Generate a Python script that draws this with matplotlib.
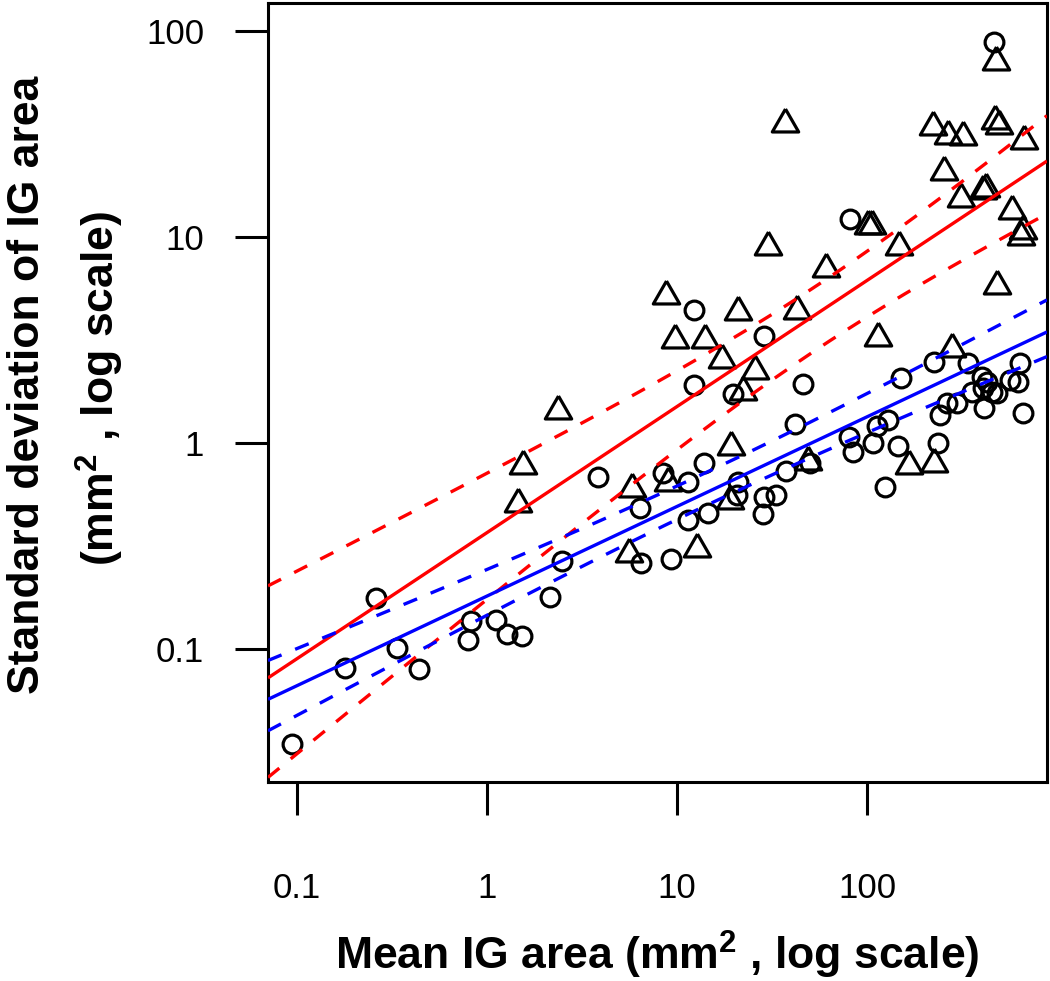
import numpy as np
import matplotlib
matplotlib.use("Agg")
import matplotlib.pyplot as plt
from matplotlib.ticker import FixedLocator, NullLocator

# ---- data ----
circle_x = [0.094, 0.179, 0.261, 0.336, 0.439, 0.794, 0.824, 1.115, 1.274, 1.527,
            2.146, 2.483, 3.84, 6.39, 6.47, 8.44, 9.29, 11.4, 11.4, 14.6,
            13.9, 12.3, 12.3, 19.7, 28.7, 20.9, 20.7, 28.7, 33.2, 28.4,
            37.5, 50.1, 41.8, 46.0, 80.4, 84.4, 107.6, 113, 129, 124.5,
            145.6, 151, 81.4, 236.5, 225, 340, 638, 403, 428, 408,
            455, 483, 357, 566, 624, 264, 298, 242, 413, 662, 466]
circle_y = [0.0346, 0.0809, 0.177, 0.101, 0.080, 0.111, 0.137, 0.138, 0.118, 0.116,
            0.179, 0.267, 0.684, 0.483, 0.261, 0.714, 0.273, 0.647, 0.423, 0.457,
            0.80, 1.91, 4.43, 1.73, 3.30, 0.647, 0.560, 0.547, 0.560, 0.452,
            0.731, 0.80, 1.24, 1.93, 1.07, 0.904, 1.0, 1.21, 1.29, 0.611,
            0.967, 2.07, 12.2, 1.0, 2.47, 2.44, 2.44, 2.09, 1.98, 1.85,
            1.77, 1.75, 1.77, 2.02, 1.98, 1.56, 1.56, 1.37, 1.48, 1.40, 88.5]

tri_x = [1.545, 1.455, 2.365, 5.80, 5.59, 8.97, 12.7, 19.2, 19.0, 48.9,
         166, 225, 8.75, 9.75, 14.0, 17.3, 25.8, 22.3, 20.9, 42.8,
         30.1, 60.8, 37.0, 114, 280, 101, 106, 147, 222, 267,
         320, 472, 495, 670, 254, 312, 408, 423, 579, 662,
         647, 483, 478]
tri_y = [0.809, 0.528, 1.50, 0.626, 0.303, 0.668, 0.320, 1.0, 0.547, 0.846,
         0.809, 0.826, 5.41, 3.30, 3.30, 2.64, 2.34, 1.85, 4.52, 4.57,
         9.35, 7.31, 37.0, 3.38, 2.99, 11.8, 11.8, 9.35, 35.7, 32.4,
         32.0, 38.3, 36.2, 30.6, 21.6, 16.0, 17.5, 17.9, 14.0, 11.2,
         10.4, 6.05, 74.0]

# fitted lines in log10-log10 space: intercept, slope
red_fit = [-0.435, 0.612]
blue_fit = [-0.743, 0.435]
# confidence bands: centre offset, x0, A, B  (half width = sqrt(A + B*(x-x0)^2))
red_band = [-0.018, 1.75, 0.024, 0.0228]
blue_band = [0.018, 1.2, 0.0064, 0.0041]

x_ticks = [0.1, 1, 10, 100]
x_tick_labels = ["0.1", "1", "10", "100"]
y_ticks = [0.1, 1, 10, 100]
y_tick_labels = ["0.1", "1", "10", "100"]

# ---- figure ----
W, H, DPI = 1050, 981, 100
fig = plt.figure(figsize=(W / DPI, H / DPI), dpi=DPI)
ax = fig.add_axes([268 / W, 1 - 782 / H, (1047 - 268) / W, (782 - 3) / H])
ax.set_xscale("log")
ax.set_yscale("log")
xlim = (10 ** (-1 + (268 - 297) / 190), 10 ** (-1 + (1047 - 297) / 190))
ylim = (10 ** (-1 - 133 / 206), 10 ** (2 + 28 / 206))
ax.set_xlim(xlim)
ax.set_ylim(ylim)

ax.plot(circle_x, circle_y, linestyle="none", marker="o", markersize=13.5,
        markerfacecolor="none", markeredgecolor="black", markeredgewidth=2.3, zorder=3)
tri_marker = [(0, 1), (-1.15, -1), (1.15, -1), (0, 1)]
ax.plot(tri_x, tri_y, linestyle="none", marker=tri_marker, markersize=19,
        markerfacecolor="none", markeredgecolor="black", markeredgewidth=2.3, zorder=3)

lx = np.linspace(np.log10(xlim[0]), np.log10(xlim[1]), 400)
dash = (0, (4.4, 4.4))
for fit, band, col in [(red_fit, red_band, "#ff0000"), (blue_fit, blue_band, "#0000ff")]:
    a, b = fit
    d, x0, A, B = band
    ly = a + b * lx
    h = np.sqrt(A + B * (lx - x0) ** 2)
    xs = 10 ** lx
    ax.plot(xs, 10 ** ly, color=col, lw=2.4, zorder=4, solid_capstyle="butt")
    ax.plot(xs, 10 ** (ly + d + h), color=col, lw=2.4, linestyle=dash, zorder=4)
    ax.plot(xs, 10 ** (ly + d - h), color=col, lw=2.4, linestyle=dash, zorder=4)

for s in ax.spines.values():
    s.set_linewidth(2.2)
ax.xaxis.set_major_locator(FixedLocator(x_ticks))
ax.yaxis.set_major_locator(FixedLocator(y_ticks))
ax.xaxis.set_minor_locator(NullLocator())
ax.yaxis.set_minor_locator(NullLocator())
ax.set_xticklabels(x_tick_labels)
ax.set_yticklabels(y_tick_labels)
for lab in ax.get_xticklabels() + ax.get_yticklabels():
    lab.set_fontfamily(["Liberation Sans", "DejaVu Sans"])
    lab.set_fontsize(25)
ax.tick_params(axis="both", direction="out", length=24, width=2.2, color="black")
ax.tick_params(axis="x", pad=41)
ax.tick_params(axis="y", pad=22)

plt.rcParams["mathtext.default"] = "regular"
lab_font = dict(family=["Liberation Sans Narrow", "Liberation Sans", "DejaVu Sans"],
                weight="bold", size=32)
fig.text(657 / W, 1 - 955 / H, "Mean IG area (mm$^2$ , log scale)",
         ha="center", va="center", **lab_font)
fig.text(28 / W, 1 - 385 / H, "Standard deviation of IG area", rotation=90,
         ha="center", va="center", **lab_font)
fig.text(100 / W, 1 - 388 / H, "(mm$^2$ , log scale)", rotation=90,
         ha="center", va="center", **lab_font)

fig.savefig("out.png", dpi=DPI)
